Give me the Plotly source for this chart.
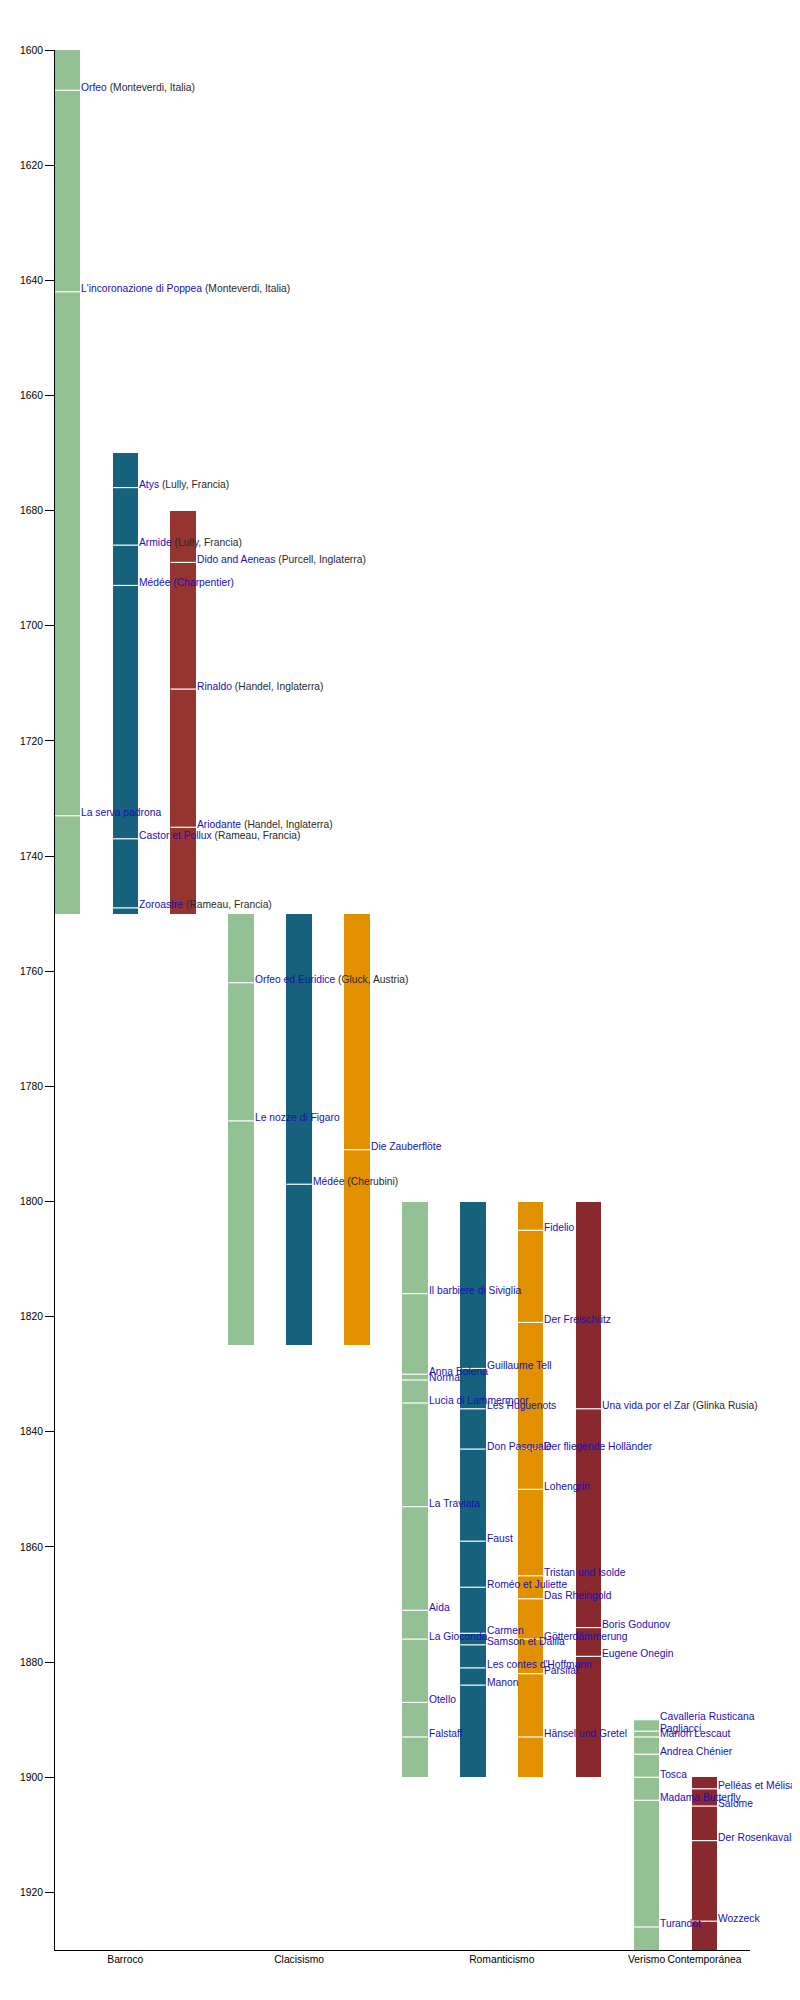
import plotly.graph_objects as go

# ---- data ----
col_period = ["Barroco", "Barroco", "Barroco",
              "Clacisismo", "Clacisismo", "Clacisismo",
              "Romanticismo", "Romanticismo", "Romanticismo", "Romanticismo",
              "Verismo", "Contemporánea"]
col_school = ["Italiana", "Francesa", "Inglesa",
              "Italiana", "Francesa", "Alemana",
              "Italiana", "Francesa", "Alemana", "Rusa",
              "Italiana", "Moderna"]
col_start = [1600, 1670, 1680, 1750, 1750, 1750, 1800, 1800, 1800, 1800, 1890, 1900]
col_end = [1750, 1750, 1750, 1825, 1825, 1825, 1900, 1900, 1900, 1900, 1930, 1930]

opera_col = [0, 0, 0,
             1, 1, 1, 1, 1,
             2, 2, 2,
             3, 3,
             4,
             5,
             6, 6, 6, 6, 6, 6, 6, 6, 6,
             7, 7, 7, 7, 7, 7, 7, 7, 7,
             8, 8, 8, 8, 8, 8, 8, 8, 8,
             9, 9, 9,
             10, 10, 10, 10, 10, 10, 10,
             11, 11, 11, 11]
opera_title = ["Orfeo", "L'incoronazione di Poppea", "La serva padrona",
               "Atys", "Armide", "Médée (Charpentier)", "Castor et Pollux", "Zoroastre",
               "Dido and Aeneas", "Rinaldo", "Ariodante",
               "Orfeo ed Euridice", "Le nozze di Figaro",
               "Médée",
               "Die Zauberflöte",
               "Il barbiere di Siviglia", "Anna Bolena", "Norma", "Lucia di Lammermoor",
               "La Traviata", "Aida", "La Gioconda", "Otello", "Falstaff",
               "Guillaume Tell", "Les Huguenots", "Don Pasquale", "Faust", "Roméo et Juliette",
               "Carmen", "Samson et Dalila", "Les contes d'Hoffmann", "Manon",
               "Fidelio", "Der Freischütz", "Der fliegende Holländer", "Lohengrin",
               "Tristan und Isolde", "Das Rheingold", "Götterdämmerung", "Parsifal",
               "Hänsel und Gretel",
               "Una vida por el Zar", "Boris Godunov", "Eugene Onegin",
               "Cavalleria Rusticana", "Pagliacci", "Manon Lescaut", "Andrea Chénier",
               "Tosca", "Madama Butterfly", "Turandot",
               "Pelléas et Mélisande", "Salome", "Der Rosenkavalier", "Wozzeck"]
opera_info = ["(Monteverdi, Italia)", "(Monteverdi, Italia)", "",
              "(Lully, Francia)", "(Lully, Francia)", "", "(Rameau, Francia)", "(Rameau, Francia)",
              "(Purcell, Inglaterra)", "(Handel, Inglaterra)", "(Handel, Inglaterra)",
              "(Gluck, Austria)", "",
              "(Cherubini)",
              "",
              "", "", "", "", "", "", "", "", "",
              "", "", "", "", "", "", "", "", "",
              "", "", "", "", "", "", "", "", "",
              "(Glinka Rusia)", "", "",
              "", "", "", "", "", "", "",
              "", "", "", ""]
opera_year = [1607, 1642, 1733,
              1676, 1686, 1693, 1737, 1749,
              1689, 1711, 1735,
              1762, 1786,
              1797,
              1791,
              1816, 1830, 1831, 1835, 1853, 1871, 1876, 1887, 1893,
              1829, 1836, 1843, 1859, 1867, 1875, 1877, 1881, 1884,
              1805, 1821, 1843, 1850, 1865, 1869, 1876, 1882, 1893,
              1836, 1874, 1879,
              1890, 1892, 1893, 1896, 1900, 1904, 1926,
              1902, 1905, 1911, 1925]

year_ticks = list(range(1600, 1921, 20))

# ---- styles ----
school_colors = {
    "Italiana": "#93c193",
    "Francesa": "#16627c",
    "Inglesa": "#953530",
    "Alemana": "#e19100",
    "Rusa": "#88292d",
    "Moderna": "#88292d",
}
TITLE_COLOR = "#1a10b4"
INFO_COLOR = "#2a2a2a"
FONT = "Liberation Sans, Arial, sans-serif"
BAR_W = 0.44

slots = list(range(len(col_start)))

fig = go.Figure()
fig.add_trace(go.Bar(
    x=slots,
    y=[e - s for s, e in zip(col_start, col_end)],
    base=col_start,
    width=BAR_W,
    marker=dict(color=[school_colors[s] for s in col_school], line=dict(width=0)),
    hoverinfo="skip",
    showlegend=False,
))

# white lines for each opera
lx, ly = [], []
for c, yr in zip(opera_col, opera_year):
    lx += [c - BAR_W / 2, c + BAR_W / 2, None]
    ly += [yr, yr, None]
fig.add_trace(go.Scatter(x=lx, y=ly, mode="lines",
                         line=dict(color="white", width=1.2),
                         hoverinfo="skip", showlegend=False))

# labels
annotations = []
for c, yr, t, info in zip(opera_col, opera_year, opera_title, opera_info):
    txt = f"<span style='color:{TITLE_COLOR}'>{t}</span>"
    if info:
        txt += f" <span style='color:{INFO_COLOR}'>{info}</span>"
    annotations.append(dict(
        x=c + BAR_W / 2, y=yr, xref="x", yref="y",
        text=txt, showarrow=False, xanchor="left", yanchor="middle",
        xshift=0, yshift=3, font=dict(family=FONT, size=10.3),
        borderpad=0,
    ))

# period ticks (centre of each period's columns)
periods = []
for p in col_period:
    if p not in periods:
        periods.append(p)
period_pos = [sum(i for i, q in enumerate(col_period) if q == p) /
              sum(1 for q in col_period if q == p) for p in periods]

fig.update_layout(
    width=800, height=2000, autosize=False,
    margin=dict(l=42, r=58, t=42, b=58),
    paper_bgcolor="white", plot_bgcolor="white",
    font=dict(family=FONT, size=10.3, color="black"),
    annotations=annotations,
    hovermode=False,
    bargap=0,
)
fig.update_xaxes(
    range=[-0.214, 11.786], tickvals=period_pos, ticktext=periods,
    showline=True, linecolor="black", linewidth=1,
    showgrid=False, zeroline=False, ticks="",
    tickfont=dict(family=FONT, size=10.3, color="black"),
)
fig.update_yaxes(
    range=[1930, 1600], tickvals=year_ticks,
    showline=True, linecolor="black", linewidth=1,
    showgrid=False, zeroline=False, ticks="outside", ticklen=9,
    tickcolor="black", tickwidth=1,
    tickfont=dict(family=FONT, size=10.3, color="black"),
)

fig.write_html("out.html")
